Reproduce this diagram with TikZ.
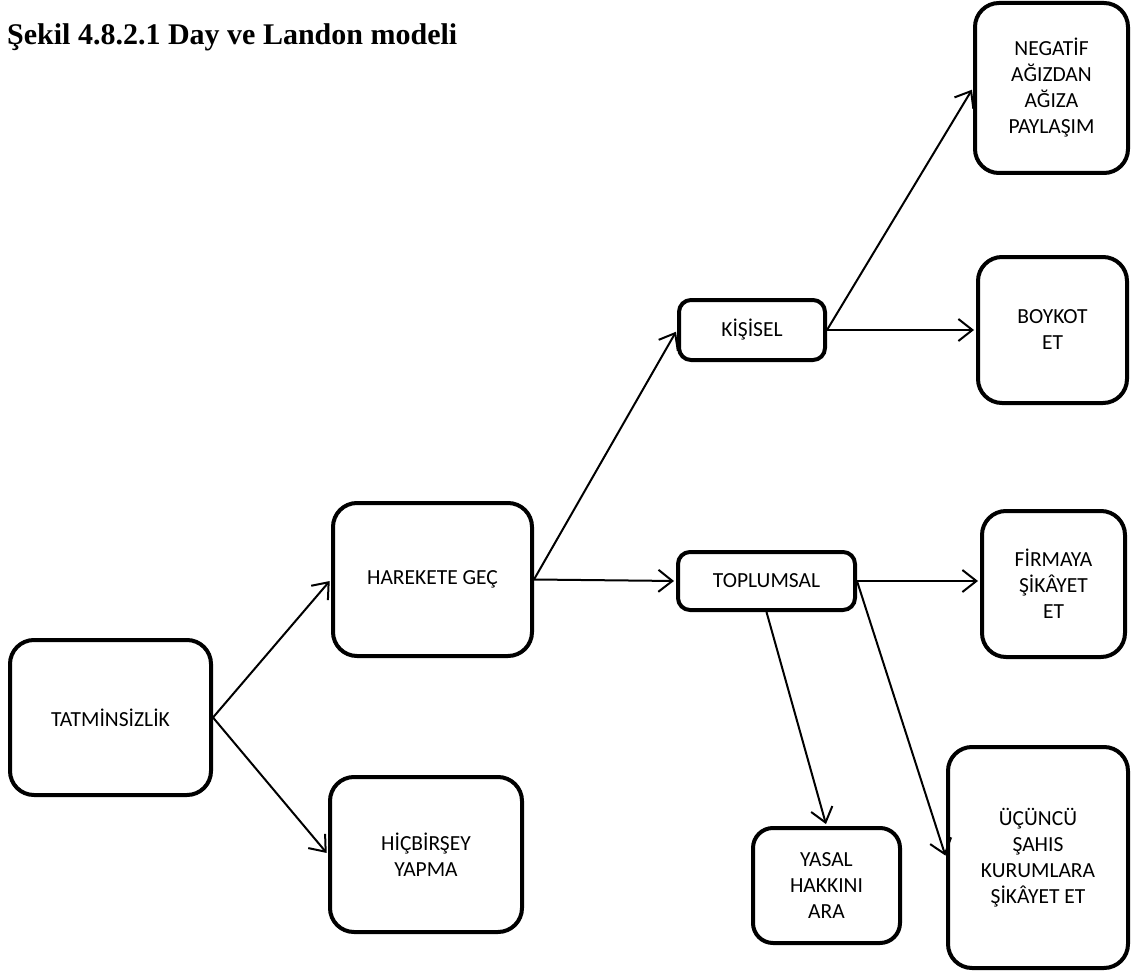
\documentclass[tikz,border=0pt]{standalone}
\usepackage{fontspec}
\setmainfont{Carlito}
\newfontfamily\titlefont{Liberation Serif}
\usetikzlibrary{arrows.meta}
\begin{document}
\begin{tikzpicture}[x=1pt,y=-1pt,
  box/.style={draw, line width=4pt, rounded corners=#1, align=center, inner sep=0pt,
    font=\fontsize{21.5}{26}\selectfont},
  box/.default=24pt,
  arr/.style={line width=2pt, shorten >=2pt,
    -{Straight Barb[length=14pt,width=22pt,line width=2pt]}}]
\useasboundingbox (0,0) rectangle (1133,971);
\node[anchor=base west, inner sep=0pt, font=\titlefont\bfseries\fontsize{30}{36}\selectfont] (title) at (7,45) {Şekil 4.8.2.1 Day ve Landon modeli};
\node[box, minimum width=201pt, minimum height=155pt] (T) at (110.5,717.5) {TATMİNSİZLİK};
\node[box, minimum width=199pt, minimum height=153pt] (H) at (432.5,579.5) {HAREKETE GEÇ};
\node[box, minimum width=192pt, minimum height=155pt] (N) at (426,854.5) {HİÇBİRŞEY\\YAPMA};
\node[box=12pt, minimum width=146pt, minimum height=60pt] (K) at (752,330) {KİŞİSEL};
\node[box=12pt, minimum width=177pt, minimum height=58pt] (P) at (766.5,581) {TOPLUMSAL};
\node[box, minimum width=153pt, minimum height=170pt] (NG) at (1051.5,88) {NEGATİF\\AĞIZDAN\\AĞIZA\\PAYLAŞIM};
\node[box, minimum width=149pt, minimum height=146pt] (B) at (1052.5,330) {BOYKOT\\ET};
\node[box, minimum width=143pt, minimum height=146pt] (F) at (1053.5,584) {FİRMAYA\\ŞİKÂYET\\ET};
\node[box=20pt, minimum width=147pt, minimum height=115pt] (Y) at (826.5,885.5) {YASAL\\HAKKINI\\ARA};
\node[box, minimum width=180pt, minimum height=221pt] (U) at (1038,857.5) {ÜÇÜNCÜ\\ŞAHIS\\KURUMLARA\\ŞİKÂYET ET};
\draw[arr] (T.east) -- (H.west);
\draw[arr] (T.east) -- (N.west);
\draw[arr] (H.east) -- (K.west);
\draw[arr] (H.east) -- (P.west);
\draw[arr] (K.east) -- (NG.west);
\draw[arr] (K.east) -- (B.west);
\draw[arr] (P.east) -- (F.west |- P.east);
\draw[arr] (P.south) -- (Y.north);
\draw[arr] (P.east) -- (U.west);
\end{tikzpicture}
\end{document}
